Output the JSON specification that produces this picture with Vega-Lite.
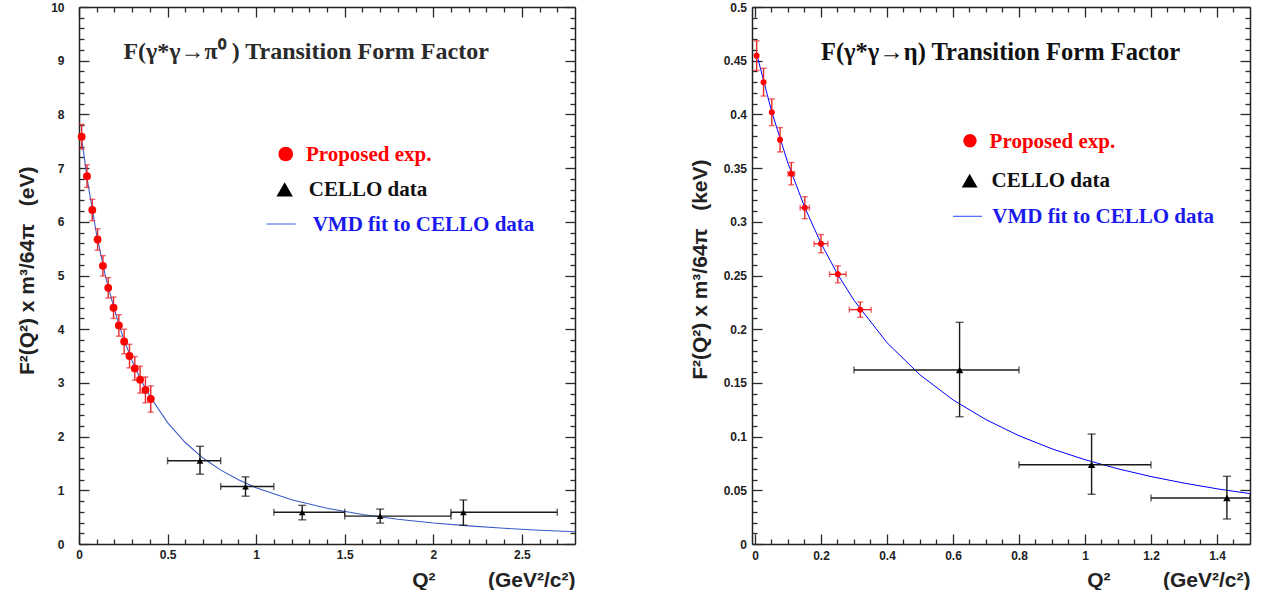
{
  "$schema": "https://vega.github.io/schema/vega-lite/v6.json",
  "background": "white",
  "padding": {"left": 15, "top": 1, "right": 5, "bottom": 0},
  "spacing": 112,
  "config": {
    "view": {"stroke": null},
    "axis": {
      "grid": false,
      "domainColor": "#222222",
      "domainWidth": 1.5,
      "tickColor": "#2a2a2a",
      "tickWidth": 1.3,
      "labelFont": "Liberation Sans",
      "labelFontWeight": "bold",
      "labelFontSize": 12,
      "labelColor": "#222222",
      "labelOverlap": false,
      "labelFlush": false,
      "labelBound": false,
      "titleFont": "Liberation Sans",
      "titleFontWeight": "bold",
      "titleFontSize": 21,
      "titleColor": "#222222"
    }
  },
  "datasets": {
    "piFit": [
      {"x": 0.015, "y": 7.55}, {"x": 0.05, "y": 6.72}, {"x": 0.1, "y": 5.75}, {"x": 0.15, "y": 4.98},
      {"x": 0.2, "y": 4.36}, {"x": 0.25, "y": 3.84}, {"x": 0.3, "y": 3.41}, {"x": 0.35, "y": 3.05},
      {"x": 0.4, "y": 2.75}, {"x": 0.5, "y": 2.26}, {"x": 0.6, "y": 1.89}, {"x": 0.7, "y": 1.6},
      {"x": 0.8, "y": 1.376}, {"x": 0.9, "y": 1.195}, {"x": 1.0, "y": 1.048}, {"x": 1.2, "y": 0.825},
      {"x": 1.4, "y": 0.666}, {"x": 1.6, "y": 0.549}, {"x": 1.8, "y": 0.46}, {"x": 2.0, "y": 0.391},
      {"x": 2.2, "y": 0.337}, {"x": 2.4, "y": 0.293}, {"x": 2.6, "y": 0.257}, {"x": 2.8, "y": 0.227}
    ],
    "piRed": [
      {"x": 0.015, "y": 7.585, "ey": 0.23}, {"x": 0.045, "y": 6.85, "ey": 0.21},
      {"x": 0.075, "y": 6.22, "ey": 0.2}, {"x": 0.105, "y": 5.67, "ey": 0.2},
      {"x": 0.135, "y": 5.18, "ey": 0.19}, {"x": 0.165, "y": 4.77, "ey": 0.19},
      {"x": 0.195, "y": 4.4, "ey": 0.2}, {"x": 0.225, "y": 4.07, "ey": 0.2},
      {"x": 0.255, "y": 3.77, "ey": 0.23}, {"x": 0.285, "y": 3.5, "ey": 0.22},
      {"x": 0.315, "y": 3.27, "ey": 0.22}, {"x": 0.345, "y": 3.06, "ey": 0.25},
      {"x": 0.375, "y": 2.87, "ey": 0.24}, {"x": 0.405, "y": 2.7, "ey": 0.245}
    ],
    "piCello": [
      {"x": 0.683, "y": 1.55, "xlo": 0.5, "xhi": 0.8, "ylo": 1.3, "yhi": 1.82},
      {"x": 0.94, "y": 1.07, "xlo": 0.8, "xhi": 1.1, "ylo": 0.89, "yhi": 1.25},
      {"x": 1.26, "y": 0.59, "xlo": 1.1, "xhi": 1.5, "ylo": 0.45, "yhi": 0.72},
      {"x": 1.7, "y": 0.52, "xlo": 1.5, "xhi": 2.1, "ylo": 0.39, "yhi": 0.65},
      {"x": 2.17, "y": 0.59, "xlo": 2.1, "xhi": 2.7, "ylo": 0.35, "yhi": 0.82}
    ],
    "etaFit": [
      {"x": 0.005, "y": 0.4565}, {"x": 0.05, "y": 0.4033}, {"x": 0.1, "y": 0.3545}, {"x": 0.15, "y": 0.314},
      {"x": 0.2, "y": 0.28}, {"x": 0.25, "y": 0.2514}, {"x": 0.3, "y": 0.2269}, {"x": 0.4, "y": 0.1875},
      {"x": 0.5, "y": 0.1575}, {"x": 0.6, "y": 0.1342}, {"x": 0.7, "y": 0.1158}, {"x": 0.8, "y": 0.1008},
      {"x": 0.9, "y": 0.0886}, {"x": 1.0, "y": 0.0785}, {"x": 1.1, "y": 0.07}, {"x": 1.2, "y": 0.0628},
      {"x": 1.3, "y": 0.0567}, {"x": 1.4, "y": 0.0514}, {"x": 1.5, "y": 0.0469}
    ],
    "etaRed": [
      {"x": 0.005, "y": 0.4547, "ex": 0, "ey": 0.0138},
      {"x": 0.026, "y": 0.43, "ex": 0, "ey": 0.0129},
      {"x": 0.051, "y": 0.402, "ex": 0, "ey": 0.0124},
      {"x": 0.076, "y": 0.3764, "ex": 0.003, "ey": 0.0113},
      {"x": 0.11, "y": 0.3448, "ex": 0.01, "ey": 0.0104},
      {"x": 0.151, "y": 0.3131, "ex": 0.014, "ey": 0.0102},
      {"x": 0.2, "y": 0.2796, "ex": 0.021, "ey": 0.0085},
      {"x": 0.251, "y": 0.2511, "ex": 0.025, "ey": 0.0079},
      {"x": 0.319, "y": 0.2182, "ex": 0.033, "ey": 0.0071}
    ],
    "etaCello": [
      {"x": 0.62, "y": 0.162, "xlo": 0.3, "xhi": 0.8, "ylo": 0.1185, "yhi": 0.2064},
      {"x": 1.02, "y": 0.0738, "xlo": 0.8, "xhi": 1.2, "ylo": 0.0463, "yhi": 0.1024},
      {"x": 1.43, "y": 0.0428, "xlo": 1.2, "xhi": 1.5, "ylo": 0.0233, "yhi": 0.063}
    ]
  },
  "hconcat": [
    {
      "width": 496,
      "height": 537,
      "resolve": {"axis": {"x": "independent", "y": "independent"}},
      "layer": [
        {
          "data": {"name": "piFit"},
          "mark": {"type": "line", "color": "#3a5bc7", "strokeWidth": 1.1, "clip": true},
          "encoding": {
            "x": {
              "field": "x", "type": "quantitative",
              "scale": {"domain": [0, 2.8], "nice": false, "zero": false},
              "axis": {
                "orient": "bottom",
                "values": [0, 0.5, 1, 1.5, 2, 2.5],
                "format": "~g",
                "tickSize": -10,
                "labelPadding": 15,
                "title": "Q²\u00a0\u00a0\u00a0\u00a0\u00a0\u00a0\u00a0\u00a0\u00a0(GeV²/c²)",
                "titleAnchor": "end",
                "titleBaseline": "alphabetic",
                "titleY": 42
              }
            },
            "y": {
              "field": "y", "type": "quantitative",
              "scale": {"domain": [0, 10], "nice": false, "zero": false},
              "axis": {
                "orient": "left",
                "values": [0, 1, 2, 3, 4, 5, 6, 7, 8, 9, 10],
                "format": "d",
                "tickSize": -10,
                "labelPadding": 25,
                "title": "F²(Q²) x m³/64π\u00a0\u00a0\u00a0(eV)",
                "titleAngle": -90,
                "titleAlign": "right",
                "titleBaseline": "alphabetic",
                "titleX": -46,
                "titleY": 159
              }
            }
          }
        },
        {
          "data": {"name": "piRed"},
          "mark": {"type": "errorbar", "color": "#e8282b", "thickness": 1.4, "ticks": {"size": 6, "thickness": 1.4, "color": "#e8282b"}},
          "encoding": {
            "x": {"field": "x", "type": "quantitative", "axis": null},
            "y": {"field": "y", "type": "quantitative", "axis": null},
            "yError": {"field": "ey"}
          }
        },
        {
          "data": {"name": "piCello"},
          "mark": {"type": "errorbar", "color": "#1a1a1a", "thickness": 1.4, "ticks": {"size": 8, "thickness": 1.4, "color": "#1a1a1a"}},
          "encoding": {
            "x": {"field": "x", "type": "quantitative", "axis": null},
            "y": {"field": "ylo", "type": "quantitative", "axis": null},
            "y2": {"field": "yhi"}
          }
        },
        {
          "data": {"name": "piCello"},
          "mark": {"type": "errorbar", "color": "#1a1a1a", "thickness": 1.4, "ticks": {"size": 7, "thickness": 1.4, "color": "#1a1a1a"}},
          "encoding": {
            "x": {"field": "xlo", "type": "quantitative", "axis": null},
            "x2": {"field": "xhi"},
            "y": {"field": "y", "type": "quantitative", "axis": null}
          }
        },
        {
          "data": {"name": "piRed"},
          "mark": {"type": "point", "shape": "circle", "filled": true, "size": 62, "color": "#ff0000", "opacity": 1},
          "encoding": {
            "x": {
              "field": "x", "type": "quantitative",
              "axis": {"orient": "top", "labels": false, "title": null, "values": [0, 0.5, 1, 1.5, 2, 2.5], "tickSize": -10}
            },
            "y": {
              "field": "y", "type": "quantitative",
              "axis": {"orient": "right", "labels": false, "title": null, "values": [0, 1, 2, 3, 4, 5, 6, 7, 8, 9, 10], "tickSize": -10}
            }
          }
        },
        {
          "data": {"name": "piCello"},
          "mark": {"type": "point", "shape": "triangle-up", "filled": true, "size": 45, "color": "#000000", "opacity": 1},
          "encoding": {
            "x": {
              "field": "x", "type": "quantitative",
              "axis": {"orient": "bottom", "labels": false, "title": null, "domain": false, "tickSize": -5,
                "values": [0.1,0.2,0.3,0.4,0.6,0.7,0.8,0.9,1.1,1.2,1.3,1.4,1.6,1.7,1.8,1.9,2.1,2.2,2.3,2.4,2.6,2.7]}
            },
            "y": {
              "field": "y", "type": "quantitative",
              "axis": {"orient": "left", "labels": false, "title": null, "domain": false, "tickSize": -5,
                "values": [0.2,0.4,0.6,0.8,1.2,1.4,1.6,1.8,2.2,2.4,2.6,2.8,3.2,3.4,3.6,3.8,4.2,4.4,4.6,4.8,5.2,5.4,5.6,5.8,6.2,6.4,6.6,6.8,7.2,7.4,7.6,7.8,8.2,8.4,8.6,8.8,9.2,9.4,9.6,9.8]}
            }
          }
        },
        {
          "data": {"values": [{"x": 0.251, "y": 9.03, "t": "F(γ*γ→π⁰ ) Transition Form Factor"}]},
          "mark": {"type": "text", "font": "Liberation Serif", "fontWeight": "bold", "fontSize": 24, "color": "#2a2a2a", "align": "left", "baseline": "alphabetic"},
          "encoding": {
            "x": {
              "field": "x", "type": "quantitative",
              "axis": {"orient": "top", "labels": false, "title": null, "domain": false, "tickSize": -5,
                "values": [0.1,0.2,0.3,0.4,0.6,0.7,0.8,0.9,1.1,1.2,1.3,1.4,1.6,1.7,1.8,1.9,2.1,2.2,2.3,2.4,2.6,2.7]}
            },
            "y": {
              "field": "y", "type": "quantitative",
              "axis": {"orient": "right", "labels": false, "title": null, "domain": false, "tickSize": -5,
                "values": [0.2,0.4,0.6,0.8,1.2,1.4,1.6,1.8,2.2,2.4,2.6,2.8,3.2,3.4,3.6,3.8,4.2,4.4,4.6,4.8,5.2,5.4,5.6,5.8,6.2,6.4,6.6,6.8,7.2,7.4,7.6,7.8,8.2,8.4,8.6,8.8,9.2,9.4,9.6,9.8]}
            },
            "text": {"field": "t"}
          }
        },
        {
          "data": {"values": [{"x": 1.167, "y": 7.263}]},
          "mark": {"type": "point", "shape": "circle", "filled": true, "size": 215, "color": "#ff0000", "opacity": 1},
          "encoding": {
            "x": {"field": "x", "type": "quantitative", "axis": null},
            "y": {"field": "y", "type": "quantitative", "axis": null}
          }
        },
        {
          "data": {"values": [{"x": 1.161, "y": 6.605}]},
          "mark": {"type": "point", "shape": "triangle-up", "filled": true, "size": 270, "color": "#000000", "opacity": 1},
          "encoding": {
            "x": {"field": "x", "type": "quantitative", "axis": null},
            "y": {"field": "y", "type": "quantitative", "axis": null}
          }
        },
        {
          "data": {"values": [{"x": 1.059, "x2": 1.223, "y": 5.959}]},
          "mark": {"type": "rule", "color": "#5577ee", "strokeWidth": 1.2},
          "encoding": {
            "x": {"field": "x", "type": "quantitative", "axis": null},
            "x2": {"field": "x2"},
            "y": {"field": "y", "type": "quantitative", "axis": null}
          }
        },
        {
          "data": {"values": [{"x": 1.281, "y": 7.138, "t": "Proposed exp."}]},
          "mark": {"type": "text", "font": "Liberation Serif", "fontWeight": "bold", "fontSize": 21, "color": "#ff0000", "align": "left", "baseline": "alphabetic"},
          "encoding": {
            "x": {"field": "x", "type": "quantitative", "axis": null},
            "y": {"field": "y", "type": "quantitative", "axis": null},
            "text": {"field": "t"}
          }
        },
        {
          "data": {"values": [{"x": 1.297, "y": 6.486, "t": "CELLO data"}]},
          "mark": {"type": "text", "font": "Liberation Serif", "fontWeight": "bold", "fontSize": 21, "color": "#111111", "align": "left", "baseline": "alphabetic"},
          "encoding": {
            "x": {"field": "x", "type": "quantitative", "axis": null},
            "y": {"field": "y", "type": "quantitative", "axis": null},
            "text": {"field": "t"}
          }
        },
        {
          "data": {"values": [{"x": 1.319, "y": 5.834, "t": "VMD fit to CELLO data"}]},
          "mark": {"type": "text", "font": "Liberation Serif", "fontWeight": "bold", "fontSize": 21, "color": "#1a1aee", "align": "left", "baseline": "alphabetic"},
          "encoding": {
            "x": {"field": "x", "type": "quantitative", "axis": null},
            "y": {"field": "y", "type": "quantitative", "axis": null},
            "text": {"field": "t"}
          }
        }
      ]
    },
    {
      "width": 498,
      "height": 537,
      "resolve": {"axis": {"x": "independent", "y": "independent"}},
      "layer": [
        {
          "data": {"name": "etaFit"},
          "mark": {"type": "line", "color": "#0000ff", "strokeWidth": 1, "clip": true},
          "encoding": {
            "x": {
              "field": "x", "type": "quantitative",
              "scale": {"domain": [-0.009, 1.5], "nice": false, "zero": false},
              "axis": {
                "orient": "bottom",
                "values": [0, 0.2, 0.4, 0.6, 0.8, 1, 1.2, 1.4],
                "format": "~g",
                "tickSize": -10,
                "labelPadding": 16,
                "title": "Q²\u00a0\u00a0\u00a0\u00a0\u00a0\u00a0\u00a0\u00a0\u00a0(GeV²/c²)",
                "titleAnchor": "end",
                "titleBaseline": "alphabetic",
                "titleY": 42
              }
            },
            "y": {
              "field": "y", "type": "quantitative",
              "scale": {"domain": [0, 0.5], "nice": false, "zero": false},
              "axis": {
                "orient": "left",
                "values": [0, 0.05, 0.1, 0.15, 0.2, 0.25, 0.3, 0.35, 0.4, 0.45, 0.5],
                "format": "~g",
                "tickSize": -10,
                "labelPadding": 15.5,
                "title": "F²(Q²) x m³/64π\u00a0\u00a0\u00a0(keV)",
                "titleAngle": -90,
                "titleAlign": "right",
                "titleBaseline": "alphabetic",
                "titleX": -46,
                "titleY": 152
              }
            }
          }
        },
        {
          "data": {"name": "etaRed"},
          "mark": {"type": "errorbar", "color": "#e8282b", "thickness": 1.4, "ticks": {"size": 6, "thickness": 1.4, "color": "#e8282b"}},
          "encoding": {
            "x": {"field": "x", "type": "quantitative", "axis": null},
            "y": {"field": "y", "type": "quantitative", "axis": null},
            "yError": {"field": "ey"}
          }
        },
        {
          "data": {"name": "etaRed"},
          "transform": [{"filter": "datum.ex > 0"}],
          "mark": {"type": "errorbar", "color": "#e8282b", "thickness": 1.4, "ticks": {"size": 6, "thickness": 1.4, "color": "#e8282b"}},
          "encoding": {
            "x": {"field": "x", "type": "quantitative", "axis": null},
            "xError": {"field": "ex"},
            "y": {"field": "y", "type": "quantitative", "axis": null}
          }
        },
        {
          "data": {"name": "etaCello"},
          "mark": {"type": "errorbar", "color": "#1a1a1a", "thickness": 1.4, "ticks": {"size": 8, "thickness": 1.4, "color": "#1a1a1a"}},
          "encoding": {
            "x": {"field": "x", "type": "quantitative", "axis": null},
            "y": {"field": "ylo", "type": "quantitative", "axis": null},
            "y2": {"field": "yhi"}
          }
        },
        {
          "data": {"name": "etaCello"},
          "mark": {"type": "errorbar", "color": "#1a1a1a", "thickness": 1.4, "ticks": {"size": 7, "thickness": 1.4, "color": "#1a1a1a"}},
          "encoding": {
            "x": {"field": "xlo", "type": "quantitative", "axis": null},
            "x2": {"field": "xhi"},
            "y": {"field": "y", "type": "quantitative", "axis": null}
          }
        },
        {
          "data": {"name": "etaRed"},
          "mark": {"type": "point", "shape": "circle", "filled": true, "size": 36, "color": "#ff0000", "opacity": 1},
          "encoding": {
            "x": {
              "field": "x", "type": "quantitative",
              "axis": {"orient": "top", "labels": false, "title": null, "values": [0, 0.2, 0.4, 0.6, 0.8, 1, 1.2, 1.4], "tickSize": -10}
            },
            "y": {
              "field": "y", "type": "quantitative",
              "axis": {"orient": "right", "labels": false, "title": null, "values": [0, 0.05, 0.1, 0.15, 0.2, 0.25, 0.3, 0.35, 0.4, 0.45, 0.5], "tickSize": -10}
            }
          }
        },
        {
          "data": {"name": "etaCello"},
          "mark": {"type": "point", "shape": "triangle-up", "filled": true, "size": 55, "color": "#000000", "opacity": 1},
          "encoding": {
            "x": {
              "field": "x", "type": "quantitative",
              "axis": {"orient": "bottom", "labels": false, "title": null, "domain": false, "tickSize": -5,
                "values": [0.05,0.1,0.15,0.25,0.3,0.35,0.45,0.5,0.55,0.65,0.7,0.75,0.85,0.9,0.95,1.05,1.1,1.15,1.25,1.3,1.35,1.45]}
            },
            "y": {
              "field": "y", "type": "quantitative",
              "axis": {"orient": "left", "labels": false, "title": null, "domain": false, "tickSize": -5,
                "values": [0.01,0.02,0.03,0.04,0.06,0.07,0.08,0.09,0.11,0.12,0.13,0.14,0.16,0.17,0.18,0.19,0.21,0.22,0.23,0.24,0.26,0.27,0.28,0.29,0.31,0.32,0.33,0.34,0.36,0.37,0.38,0.39,0.41,0.42,0.43,0.44,0.46,0.47,0.48,0.49]}
            }
          }
        },
        {
          "data": {"values": [{"x": 0.2, "y": 0.4509, "t": "F(γ*γ→η) Transition Form Factor"}]},
          "mark": {"type": "text", "font": "Liberation Serif", "fontWeight": "bold", "fontSize": 24.5, "color": "#111111", "align": "left", "baseline": "alphabetic"},
          "encoding": {
            "x": {
              "field": "x", "type": "quantitative",
              "axis": {"orient": "top", "labels": false, "title": null, "domain": false, "tickSize": -5,
                "values": [0.05,0.1,0.15,0.25,0.3,0.35,0.45,0.5,0.55,0.65,0.7,0.75,0.85,0.9,0.95,1.05,1.1,1.15,1.25,1.3,1.35,1.45]}
            },
            "y": {
              "field": "y", "type": "quantitative",
              "axis": {"orient": "right", "labels": false, "title": null, "domain": false, "tickSize": -5,
                "values": [0.01,0.02,0.03,0.04,0.06,0.07,0.08,0.09,0.11,0.12,0.13,0.14,0.16,0.17,0.18,0.19,0.21,0.22,0.23,0.24,0.26,0.27,0.28,0.29,0.31,0.32,0.33,0.34,0.36,0.37,0.38,0.39,0.41,0.42,0.43,0.44,0.46,0.47,0.48,0.49]}
            },
            "text": {"field": "t"}
          }
        },
        {
          "data": {"values": [{"x": 0.6515, "y": 0.3755}]},
          "mark": {"type": "point", "shape": "circle", "filled": true, "size": 180, "color": "#ff0000", "opacity": 1},
          "encoding": {
            "x": {"field": "x", "type": "quantitative", "axis": null},
            "y": {"field": "y", "type": "quantitative", "axis": null}
          }
        },
        {
          "data": {"values": [{"x": 0.6505, "y": 0.3383}]},
          "mark": {"type": "point", "shape": "triangle-up", "filled": true, "size": 250, "color": "#000000", "opacity": 1},
          "encoding": {
            "x": {"field": "x", "type": "quantitative", "axis": null},
            "y": {"field": "y", "type": "quantitative", "axis": null}
          }
        },
        {
          "data": {"values": [{"x": 0.6, "x2": 0.688, "y": 0.3051}]},
          "mark": {"type": "rule", "color": "#4466ff", "strokeWidth": 1.2},
          "encoding": {
            "x": {"field": "x", "type": "quantitative", "axis": null},
            "x2": {"field": "x2"},
            "y": {"field": "y", "type": "quantitative", "axis": null}
          }
        },
        {
          "data": {"values": [{"x": 0.711, "y": 0.3687, "t": "Proposed exp."}]},
          "mark": {"type": "text", "font": "Liberation Serif", "fontWeight": "bold", "fontSize": 21, "color": "#ff0000", "align": "left", "baseline": "alphabetic"},
          "encoding": {
            "x": {"field": "x", "type": "quantitative", "axis": null},
            "y": {"field": "y", "type": "quantitative", "axis": null},
            "text": {"field": "t"}
          }
        },
        {
          "data": {"values": [{"x": 0.717, "y": 0.3321, "t": "CELLO data"}]},
          "mark": {"type": "text", "font": "Liberation Serif", "fontWeight": "bold", "fontSize": 21, "color": "#111111", "align": "left", "baseline": "alphabetic"},
          "encoding": {
            "x": {"field": "x", "type": "quantitative", "axis": null},
            "y": {"field": "y", "type": "quantitative", "axis": null},
            "text": {"field": "t"}
          }
        },
        {
          "data": {"values": [{"x": 0.719, "y": 0.2989, "t": "VMD fit to CELLO data"}]},
          "mark": {"type": "text", "font": "Liberation Serif", "fontWeight": "bold", "fontSize": 21, "color": "#1a1aee", "align": "left", "baseline": "alphabetic"},
          "encoding": {
            "x": {"field": "x", "type": "quantitative", "axis": null},
            "y": {"field": "y", "type": "quantitative", "axis": null},
            "text": {"field": "t"}
          }
        }
      ]
    }
  ]
}
